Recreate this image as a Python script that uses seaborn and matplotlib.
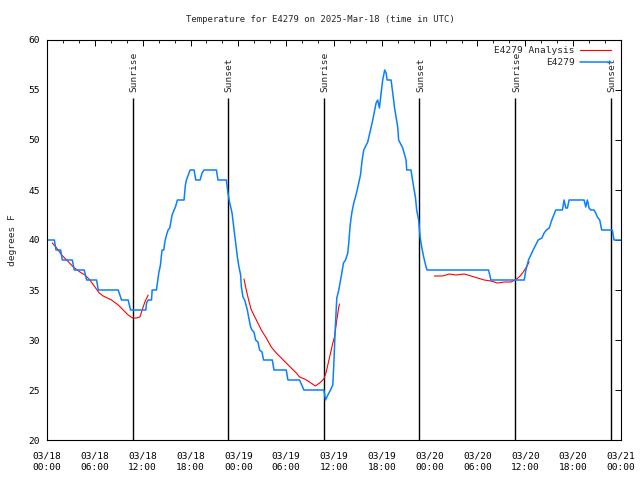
import matplotlib
matplotlib.use("Agg")
import matplotlib.pyplot as plt
from matplotlib.lines import Line2D
from matplotlib.ticker import MultipleLocator
import seaborn as sns
import pandas as pd

# ---- data (hours since 2025-03-18 00:00 UTC, degrees F) ----
obs_hours = [0, 0.92, 1.13, 1.71, 1.92, 3.17, 3.42, 4.67, 4.97, 6.22, 6.43, 8.93, 9.35, 10.18, 10.48, 12.40,
             12.48, 12.69, 13.11, 13.19, 13.73, 13.85, 14.02, 14.23, 14.36, 14.44, 14.65, 14.78, 14.99, 15.19,
             15.40, 15.53, 15.69, 15.94, 16.11, 16.36, 17.19, 17.36, 17.49, 17.82, 17.95, 18.45, 18.66, 19.20,
             19.45, 19.70, 21.25, 21.45, 22.50, 22.70, 22.92, 23.21, 23.42, 23.67, 23.88, 24.08, 24.29, 24.38,
             24.58, 24.79, 25.13, 25.29, 25.54, 25.71, 25.96, 26.17, 26.46, 26.67, 26.96, 27.17, 28.26, 28.47,
             30.01, 30.22, 31.68, 32.22, 34.73, 34.94, 35.23, 35.56, 35.85, 36.00, 36.15, 36.28, 36.35, 36.60,
             36.78, 36.98, 37.19, 37.44, 37.73, 37.85, 38.03, 38.23, 38.48, 38.69, 38.91, 39.32, 39.53, 39.73,
             40.23, 40.57, 40.86, 41.28, 41.48, 41.70, 41.91, 42.11, 42.36, 42.54, 42.66, 43.16, 43.37, 43.58,
             43.79, 43.99, 44.11, 44.62, 45.04, 45.12, 45.66, 45.79, 45.99, 46.21, 46.37, 46.62, 46.80, 47.00,
             47.25, 47.55, 47.67, 55.39, 55.68, 59.86, 60.07, 60.40, 60.98, 61.61, 62.07, 62.36, 62.65, 62.99,
             63.32, 63.82, 64.65, 64.86, 65.07, 65.28, 65.49, 67.37, 67.58, 67.78, 67.99, 68.20, 68.62, 68.83,
             69.04, 69.33, 69.58, 70.91, 71.12, 72.0]
obs_temp = [40, 40, 39, 39, 38, 38, 37, 37, 36, 36, 35, 35, 34, 34, 33, 33,
            33.7, 34, 34, 35, 35, 35.7, 36.7, 37.5, 38.5, 39, 39, 39.8, 40.5, 41,
            41.2, 41.8, 42.5, 43, 43.3, 44, 44, 45.5, 46, 46.7, 47, 47, 46, 46,
            46.7, 47, 47, 46, 46, 44.7, 43.7, 42.7, 41.3, 39.7, 38.3, 37.3, 36.5, 35.3,
            34.3, 34, 33, 32.3, 31.3, 31, 30.8, 30, 29.8, 29, 28.8, 28, 28, 27,
            27, 26, 26, 25, 25, 24, 24.5, 25, 25.5, 28, 31, 33, 34.2, 35,
            35.8, 36.7, 37.7, 38, 38.7, 39.7, 41.5, 42.7, 43.7, 44.3, 45, 46.5, 48, 49,
            49.8, 51, 52, 53.7, 54, 53.2, 54.7, 56, 57, 56.7, 56, 56, 54.7, 53.3,
            52.3, 51.3, 50, 49.2, 48, 47, 47, 46.3, 45.3, 44.3, 43, 42, 40.3, 39.3,
            38.3, 37.3, 37, 37, 36, 36, 37, 38, 39, 40, 40.2, 40.7, 41, 41.2,
            42, 43, 43, 44, 43.2, 43.2, 44, 44, 43.3, 44, 43.2, 43, 43, 42.7,
            42.3, 42, 41, 41, 40, 40]

ana_hours = [0.67, 1.21, 1.84, 2.47, 3.30, 4.13, 4.76, 5.38, 6.01, 6.55, 7.05, 8.10, 8.93, 9.56, 10.18,
             10.73, 11.23, 11.65, 11.94, 12.27, 12.69,
             24.71, 25.0, 25.29, 25.63, 26.26, 26.88, 27.51, 28.13, 28.76, 29.39, 30.01, 30.64, 31.27,
             31.68, 32.31, 32.93, 33.65, 34.19, 34.73, 35.02, 35.31, 35.65, 35.85, 36.06, 36.35, 36.6, 36.69,
             48.59, 49.63, 50.46, 51.30, 52.34, 53.18, 54.01, 54.85, 55.68, 56.51, 57.35, 58.19, 58.73,
             59.23, 59.65, 60.07, 60.48]
ana_temp = [39.7, 39.2, 38.5, 38, 37.3, 36.8, 36.5, 36, 35.3, 34.7, 34.4, 34, 33.5, 33, 32.5,
            32.2, 32.2, 32.3, 33, 33.8, 34.5,
            36.1, 35, 34, 33, 32, 31, 30.2, 29.3, 28.7, 28.2, 27.7, 27.2, 26.7,
            26.3, 26.1, 25.8, 25.4, 25.7, 26.1, 26.8, 27.8, 29, 29.7, 30.3, 32, 33.3, 33.6,
            36.4, 36.4, 36.6, 36.5, 36.6, 36.4, 36.2, 36, 35.9, 35.7, 35.8, 35.8, 36,
            36.3, 36.7, 37.2, 37.8]
ana_segment = [0] * 21 + [1] * 27 + [2] * 17

sunrise_hours = [10.78, 34.76, 58.74]
sunset_hours = [22.70, 46.72, 70.75]

x_tick_hours = [0, 6, 12, 18, 24, 30, 36, 42, 48, 54, 60, 66, 72]
x_tick_labels = ["03/18\n00:00", "03/18\n06:00", "03/18\n12:00", "03/18\n18:00",
                 "03/19\n00:00", "03/19\n06:00", "03/19\n12:00", "03/19\n18:00",
                 "03/20\n00:00", "03/20\n06:00", "03/20\n12:00", "03/20\n18:00",
                 "03/21\n00:00"]
y_ticks = [20, 25, 30, 35, 40, 45, 50, 55, 60]

title = "Temperature for E4279 on 2025-Mar-18 (time in UTC)"
series_names = ["E4279 Analysis", "E4279"]

# ---- plot ----
sns.set_style("white")
plt.rcParams["font.family"] = ["DejaVu Sans Mono"]
FS = 6.8
RED = "#ff0000"
BLUE = "#0a80ff"

obs_df = pd.DataFrame({"hours": obs_hours, "temp": obs_temp})
ana_df = pd.DataFrame({"hours": ana_hours, "temp": ana_temp, "seg": ana_segment})

fig = plt.figure(figsize=(6.4, 4.8), dpi=100)
ax = fig.add_axes([47 / 640, 40 / 480, 574 / 640, 400 / 480])

sns.lineplot(data=ana_df, x="hours", y="temp", units="seg", estimator=None,
             color=RED, lw=0.8, ax=ax, legend=False, sort=False)
sns.lineplot(data=obs_df, x="hours", y="temp", estimator=None,
             color=BLUE, lw=1.1, ax=ax, legend=False, sort=False)

for h in sunrise_hours:
    ax.vlines(h, 20, 54.2, color="black", lw=1.0, zorder=1)
    ax.text(h + 0.15, 54.8, "Sunrise", rotation=90, ha="center", va="bottom", fontsize=FS)
for h in sunset_hours:
    ax.vlines(h, 20, 54.2, color="black", lw=1.0, zorder=1)
    ax.text(h + 0.15, 54.8, "Sunset", rotation=90, ha="center", va="bottom", fontsize=FS)

ax.set_xlim(0, 72)
ax.set_ylim(20, 60)
ax.set_xticks(x_tick_hours)
ax.set_xticklabels(x_tick_labels, fontsize=FS, linespacing=1.3)
ax.xaxis.set_minor_locator(MultipleLocator(2))
ax.set_yticks(y_ticks)
ax.set_yticklabels([str(v) for v in y_ticks], fontsize=FS)
ax.tick_params(which="major", direction="in", length=4, width=0.7,
               top=True, right=True, colors="black")
ax.tick_params(axis="x", which="major", pad=8.5)
ax.tick_params(axis="y", which="major", pad=5)
ax.tick_params(which="minor", direction="in", length=2.2, width=0.7, top=True, right=False)
ax.tick_params(axis="y", which="minor", left=False, right=False)
for s in ax.spines.values():
    s.set_color("black")
    s.set_linewidth(0.8)

ax.set_xlabel("")
ax.set_ylabel("degrees F", fontsize=FS, labelpad=8)

fig.text(0.5, 1 - 19 / 480, title, ha="center", va="center", fontsize=6.5)

handles = [Line2D([], [], color=RED, lw=0.8), Line2D([], [], color=BLUE, lw=1.1)]
ax.legend(handles, series_names, loc="upper right", bbox_to_anchor=(0.982, 0.985),
          markerfirst=False, frameon=False, fontsize=FS, handlelength=3.2,
          handletextpad=0.6, labelspacing=0.3, borderaxespad=0, borderpad=0)

fig.savefig("out.png", dpi=100)
